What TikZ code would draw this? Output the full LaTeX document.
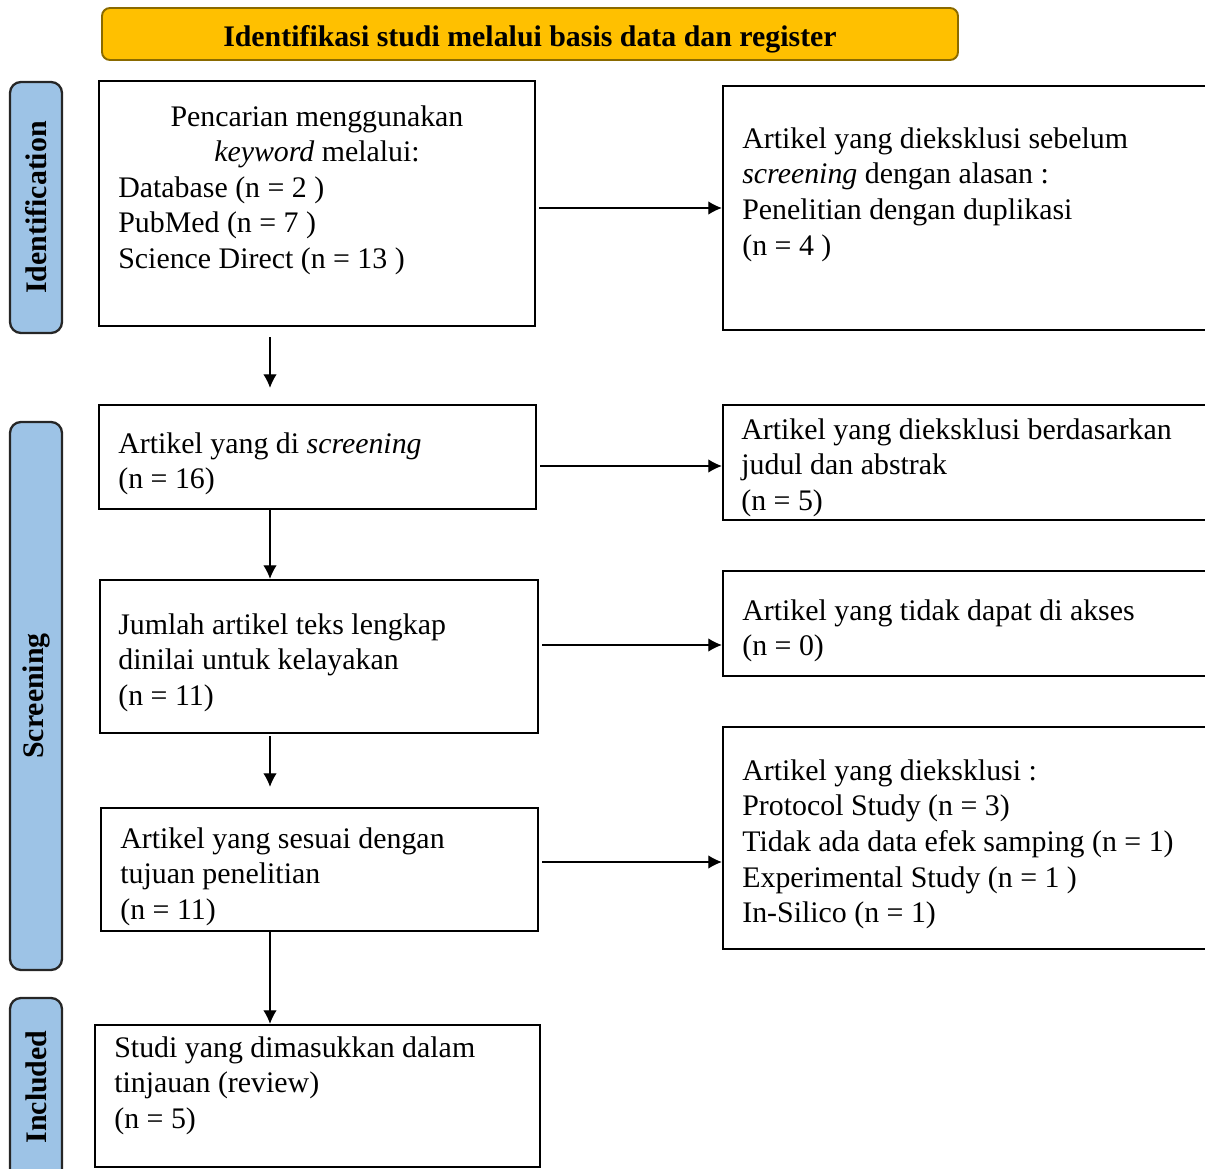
\documentclass[tikz,border=0pt]{standalone}
\usepackage{fontspec}
\setmainfont{Liberation Serif}
\usetikzlibrary{calc, positioning, fit, arrows.meta}
\definecolor{banner_gold}{HTML}{FFC000}
\definecolor{banner_edge}{HTML}{8A6A00}
\definecolor{phase_blue}{HTML}{9DC3E6}
\tikzset{
    flow_box/.style={rectangle, draw=black, line width=1.4pt, inner sep=0pt},
    phase_box/.style={rectangle, rounded corners=0.22cm, draw=black!85, line width=1.3pt, fill=phase_blue, inner sep=0pt},
    banner_box/.style={rectangle, rounded corners=0.16cm, draw=banner_edge, line width=1.1pt, fill=banner_gold, inner sep=0pt},
    box_text/.style={anchor=north west, align=left, inner sep=0pt, font=\fontsize{17}{20.3}\selectfont},
    center_text/.style={anchor=north, align=center, inner sep=0pt, font=\fontsize{17}{20.3}\selectfont},
    phase_text/.style={rotate=90, inner sep=0pt, font=\fontsize{17}{20}\selectfont\bfseries},
    arrow/.style={line width=0.6pt, -{Latex[length=0.27cm, width=0.27cm]}},
}

\begin{document}
\begin{tikzpicture}[x=0.02cm, y=-0.02cm]
            \useasboundingbox (0,0) rectangle (1205,1169);

            %%%%%%%%%%
            % BANNER %
            %%%%%%%%%%
            \node (banner) [banner_box, fit={(102,8) (958,60)}] {};
            \node (banner_text) [inner sep=0pt, font=\fontsize{17}{20}\selectfont\bfseries] at (530,39)
                    {Identifikasi studi melalui basis data dan register};

            %%%%%%%%%%%%%%%%
            % PHASE LABELS %
            %%%%%%%%%%%%%%%%
            \node (phase_ident) [phase_box, fit={(10,82) (62,333)}] {};
            \node (phase_ident_text) [phase_text] at (phase_ident.center) {Identification};
            \node (phase_screen) [phase_box, fit={(10,422) (62,970)}] {};
            \node (phase_screen_text) [phase_text] at (phase_screen.center) {Screening};
            \node (phase_incl) [phase_box, fit={(10,998) (62,1190)}] {};
            \node (phase_incl_text) [phase_text] at (36,1087) {Included};

            %%%%%%%%%%%%%%%%
            % MAIN COLUMN  %
            %%%%%%%%%%%%%%%%
            \node (search_box) [flow_box, fit={(99,81) (535,326)}] {};
            \node (search_head) [center_text] at (317,105)
                    {Pencarian menggunakan \\ \textit{keyword} melalui:};
            \node (search_list) [box_text] at (118,176)
                    {Database (n = 2 ) \\ PubMed (n = 7 ) \\ Science Direct (n = 13 )};

            \node (screen_box) [flow_box, fit={(99,405) (536,509)}] {};
            \node (screen_text) [box_text] at (118,432)
                    {Artikel yang di \textit{screening} \\ (n = 16)};

            \node (fulltext_box) [flow_box, fit={(100,580) (538,733)}] {};
            \node (fulltext_text) [box_text] at (118,613)
                    {Jumlah artikel teks lengkap \\ dinilai untuk kelayakan \\ (n = 11)};

            \node (eligible_box) [flow_box, fit={(101,808) (538,931)}] {};
            \node (eligible_text) [box_text] at (120,827)
                    {Artikel yang sesuai dengan \\ tujuan penelitian \\ (n = 11)};

            \node (included_box) [flow_box, fit={(95,1025) (540,1167)}] {};
            \node (included_text) [box_text] at (114,1036)
                    {Studi yang dimasukkan dalam \\ tinjauan (review) \\ (n = 5)};

            %%%%%%%%%%%%%%%%%%%
            % EXCLUDED COLUMN %
            %%%%%%%%%%%%%%%%%%%
            \node (excl_dup_box) [flow_box, fit={(723,86) (1220,330)}] {};
            \node (excl_dup_text) [box_text] at (742,127)
                    {Artikel yang dieksklusi sebelum \\ \textit{screening} dengan alasan : \\ Penelitian dengan duplikasi \\ (n = 4 )};

            \node (excl_title_box) [flow_box, fit={(723,405) (1220,520)}] {};
            \node (excl_title_text) [box_text] at (741,418)
                    {Artikel yang dieksklusi berdasarkan \\ judul dan abstrak \\ (n = 5)};

            \node (excl_access_box) [flow_box, fit={(723,571) (1220,676)}] {};
            \node (excl_access_text) [box_text] at (742,599)
                    {Artikel yang tidak dapat di akses \\ (n = 0)};

            \node (excl_reason_box) [flow_box, fit={(723,727) (1220,949)}] {};
            \node (excl_reason_text) [box_text] at (742,759)
                    {Artikel yang dieksklusi : \\ Protocol Study (n = 3) \\ Tidak ada data efek samping (n = 1) \\ Experimental Study (n = 1 ) \\ In-Silico (n = 1)};

            %%%%%%%%%%
            % ARROWS %
            %%%%%%%%%%
            \coordinate (down_x) at (270,0);
            \coordinate (side_a) at (0,208);
            \coordinate (side_b) at (0,466);
            \coordinate (side_c) at (0,645);
            \coordinate (side_d) at (0,862);

            \draw [arrow, shorten <=0.2cm, shorten >=0.32cm] (search_box.south -| down_x) -- (screen_box.north -| down_x);
            \draw [arrow] (screen_box.south -| down_x) -- (fulltext_box.north -| down_x);
            \draw [arrow, shorten <=0.04cm, shorten >=0.4cm] (fulltext_box.south -| down_x) -- (eligible_box.north -| down_x);
            \draw [arrow] (eligible_box.south -| down_x) -- (included_box.north -| down_x);

            \draw [arrow, shorten <=0.06cm] (search_box.east |- side_a) -- (excl_dup_box.west |- side_a);
            \draw [arrow, shorten <=0.06cm] (screen_box.east |- side_b) -- (excl_title_box.west |- side_b);
            \draw [arrow, shorten <=0.06cm] (fulltext_box.east |- side_c) -- (excl_access_box.west |- side_c);
            \draw [arrow, shorten <=0.06cm] (eligible_box.east |- side_d) -- (excl_reason_box.west |- side_d);
      \end{tikzpicture}
\end{document}
